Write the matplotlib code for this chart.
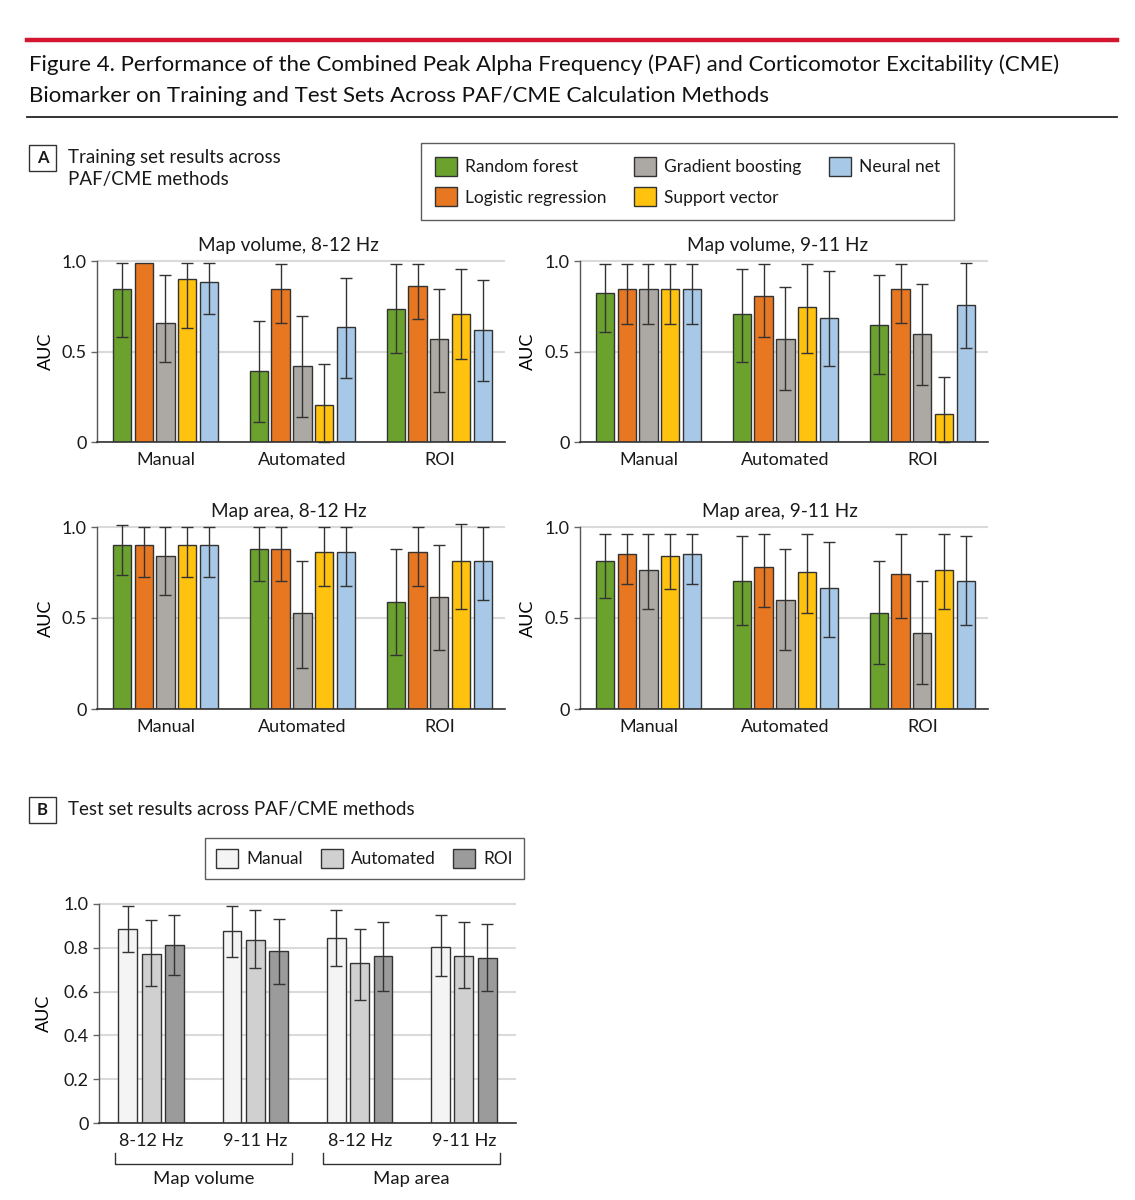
import numpy as np
import matplotlib
matplotlib.use('Agg')
import matplotlib.pyplot as plt
from matplotlib.patches import Patch, Rectangle
from matplotlib.lines import Line2D
import matplotlib.transforms as mtrans

plt.rcParams['font.family'] = ['Lato', 'DejaVu Sans']
plt.rcParams['text.color'] = '#1a1a1a'

nan = np.nan

# ---------------- data ----------------
methods = ['Manual', 'Automated', 'ROI']
models = ['Random forest', 'Logistic regression', 'Gradient boosting',
          'Support vector', 'Neural net']

# rows: Manual, Automated, ROI ; columns: models
vol812_auc = [[0.847, 0.987, 0.656, 0.899, 0.886],
              [0.392, 0.847, 0.418, 0.203, 0.634],
              [0.735, 0.860, 0.571, 0.709, 0.621]]
vol812_lo = [[0.580, nan, 0.444, 0.632, 0.705],
             [0.112, 0.659, 0.138, 0.000, 0.354],
             [0.492, 0.681, 0.276, 0.457, 0.339]]
vol812_hi = [[0.989, nan, 0.924, 0.989, 0.987],
             [0.670, 0.985, 0.694, 0.429, 0.908],
             [0.983, 0.985, 0.845, 0.958, 0.895]]

vol911_auc = [[0.821, 0.847, 0.847, 0.847, 0.847],
              [0.709, 0.808, 0.571, 0.748, 0.683],
              [0.645, 0.847, 0.595, 0.153, 0.759]]
vol911_lo = [[0.606, 0.654, 0.654, 0.654, 0.654],
             [0.442, 0.578, 0.289, 0.492, 0.418],
             [0.378, 0.656, 0.317, 0.000, 0.519]]
vol911_hi = [[0.985, 0.985, 0.985, 0.985, 0.985],
             [0.958, 0.983, 0.858, 0.985, 0.947],
             [0.923, 0.985, 0.871, 0.357, 0.987]]

area812_auc = [[0.903, 0.903, 0.839, 0.903, 0.903],
               [0.879, 0.879, 0.527, 0.864, 0.864],
               [0.588, 0.864, 0.614, 0.813, 0.813]]
area812_lo = [[0.738, 0.725, 0.626, 0.725, 0.725],
              [0.701, 0.701, 0.223, 0.678, 0.678],
              [0.297, 0.678, 0.324, 0.548, 0.599]]
area812_hi = [[1.011, 1.000, 1.000, 1.000, 1.000],
              [1.000, 1.000, 0.811, 0.998, 0.998],
              [0.877, 1.000, 0.901, 1.015, 1.000]]

area911_auc = [[0.813, 0.852, 0.764, 0.839, 0.852],
               [0.701, 0.778, 0.601, 0.753, 0.663],
               [0.526, 0.740, 0.415, 0.764, 0.701]]
area911_lo = [[0.612, 0.685, 0.549, 0.661, 0.685],
              [0.462, 0.560, 0.324, 0.526, 0.397],
              [0.247, 0.500, 0.136, 0.549, 0.462]]
area911_hi = [[0.962, 0.962, 0.962, 0.963, 0.962],
              [0.952, 0.963, 0.877, 0.963, 0.916],
              [0.813, 0.963, 0.701, 0.963, 0.952]]

panel_titles = ['Map volume, 8-12 Hz', 'Map volume, 9-11 Hz',
                'Map area, 8-12 Hz', 'Map area, 9-11 Hz']

# test set (panel B)
test_groups = ['8-12 Hz', '9-11 Hz', '8-12 Hz', '9-11 Hz']
test_super = ['Map volume', 'Map area']
test_methods = ['Manual', 'Automated', 'ROI']
# rows: groups ; columns: Manual, Automated, ROI
test_auc = [[0.887, 0.772, 0.814],
            [0.877, 0.834, 0.784],
            [0.846, 0.729, 0.761],
            [0.805, 0.761, 0.752]]
test_lo = [[0.781, 0.624, 0.677],
           [0.760, 0.709, 0.635],
           [0.718, 0.563, 0.604],
           [0.670, 0.616, 0.604]]
test_hi = [[0.991, 0.925, 0.950],
           [0.991, 0.971, 0.930],
           [0.971, 0.886, 0.919],
           [0.948, 0.919, 0.907]]

model_colors = ['#6aa22d', '#e87722', '#aca8a3', '#ffc20e', '#a8c8e8']
method_colors = ['#f4f4f4', '#d0d0d0', '#9b9b9b']

# ---------------- figure ----------------
W, H = 1135, 1200
fig = plt.figure(figsize=(W / 100, H / 100), dpi=100)
fig.patch.set_facecolor('white')

EDGE = '#333333'
GRID = '#dadada'
YMAX = 1.03
FS = 13


def add_ax(left, right, y0px, y1px, ymax=YMAX):
    per = y0px - y1px
    top = y0px - ymax * per
    return fig.add_axes([left / W, 1 - y0px / H, (right - left) / W, (y0px - top) / H])


def style_ax(ax, yticks, ylabels, labx):
    ax.set_ylim(0, YMAX)
    for s in ['top', 'right']:
        ax.spines[s].set_visible(False)
    ax.spines['left'].set_bounds(0, 1)
    ax.spines['left'].set_color('#555555')
    ax.spines['bottom'].set_color('#333333')
    ax.spines['left'].set_linewidth(1.0)
    ax.spines['bottom'].set_linewidth(1.2)
    ax.set_yticks(yticks)
    ax.set_yticklabels(ylabels)
    ax.tick_params(axis='y', length=4.5, width=1.0, color='#666666', pad=3,
                   labelsize=FS, labelcolor='#1a1a1a')
    ax.tick_params(axis='x', length=0, pad=7, labelsize=FS, labelcolor='#1a1a1a')
    ax.yaxis.grid(True, color=GRID, lw=1.5)
    ax.set_axisbelow(True)
    ax.set_ylabel('AUC', fontsize=FS)
    ax.yaxis.set_label_coords(labx, 0.5 / YMAX)


# ---- panel A ----
panelA = [
    (vol812_auc, vol812_lo, vol812_hi, (97, 505, 442, 261), 0.468, -0.105),
    (vol911_auc, vol911_lo, vol911_hi, (580, 988, 442, 261), 0.485, -0.108),
    (area812_auc, area812_lo, area812_hi, (97, 505, 709, 527), 0.470, -0.105),
    (area911_auc, area911_lo, area911_hi, (580, 988, 709, 527), 0.490, -0.108),
]
bw = 0.134
step = 0.159
xg = np.arange(len(methods))
for pi, (auc, lo, hi, box, tx, lx) in enumerate(panelA):
    ax = add_ax(*box)
    auc = np.array(auc)
    lo = np.array(lo)
    hi = np.array(hi)
    for mi in range(len(models)):
        xs = xg + (mi - 2) * step
        ax.bar(xs, auc[:, mi], width=bw, color=model_colors[mi], edgecolor=EDGE,
               linewidth=1.0, zorder=2)
        for gi in range(len(methods)):
            if np.isnan(lo[gi, mi]):
                continue
            ax.errorbar(xs[gi], auc[gi, mi],
                        yerr=[[auc[gi, mi] - lo[gi, mi]], [hi[gi, mi] - auc[gi, mi]]],
                        fmt='none', ecolor='#333333', elinewidth=1.0, capsize=4.5,
                        capthick=1.0, zorder=3, clip_on=False)
    ax.set_xlim(-0.5, 2.48)
    ax.set_xticks(xg)
    ax.set_xticklabels(methods)
    style_ax(ax, [0, 0.5, 1.0], ['0', '0.5', '1.0'], lx)
    ax.set_title(panel_titles[pi], fontsize=13.7, x=tx, pad=3)

# legend A
handles = [Patch(facecolor=c, edgecolor=EDGE, linewidth=1.0) for c in model_colors]
legA = fig.legend(handles, models, loc='upper left',
                  bbox_to_anchor=(421 / W, 1 - 143 / H), ncol=3, fontsize=12.5,
                  frameon=True, fancybox=False, edgecolor='#333333',
                  handlelength=1.28, handleheight=1.28, handletextpad=0.45,
                  columnspacing=1.6, labelspacing=0.68, borderpad=0.8,
                  borderaxespad=0)
legA.get_frame().set_linewidth(1.0)

# ---- panel B ----
axB = add_ax(99, 516, 1123, 904)
tauc = np.array(test_auc)
tlo = np.array(test_lo)
thi = np.array(test_hi)
xb = np.arange(len(test_groups))
bwB = 0.18
stepB = 0.224
for mi in range(len(test_methods)):
    xs = xb + (mi - 1) * stepB
    axB.bar(xs, tauc[:, mi], width=bwB, color=method_colors[mi], edgecolor=EDGE,
            linewidth=1.0, zorder=2)
    axB.errorbar(xs, tauc[:, mi], yerr=[tauc[:, mi] - tlo[:, mi], thi[:, mi] - tauc[:, mi]],
                 fmt='none', ecolor='#333333', elinewidth=1.0, capsize=4.5,
                 capthick=1.0, zorder=3)
axB.set_xlim(-0.5, 3.5)
axB.set_xticks(xb)
axB.set_xticklabels(test_groups)
style_ax(axB, [0, 0.2, 0.4, 0.6, 0.8, 1.0], ['0', '0.2', '0.4', '0.6', '0.8', '1.0'], -0.113)

# brackets under panel B
trB = mtrans.blended_transform_factory(axB.transData, axB.transAxes)
axes_h_px = 219 * YMAX
def ypx_to_axes(ypx):
    return (1123 - ypx) / axes_h_px
yb_line = ypx_to_axes(1164)
yb_tick = ypx_to_axes(1153)
yb_text = ypx_to_axes(1179)
for si, name in enumerate(test_super):
    g0 = xb[2 * si]
    g1 = xb[2 * si + 1]
    xa, xc = g0 - 0.35, g1 + 0.35
    axB.add_line(Line2D([xa, xa, xc, xc], [yb_tick, yb_line, yb_line, yb_tick],
                        transform=trB, color='#333333', lw=1.0, clip_on=False))
    axB.text((g0 + g1) / 2, yb_text, name, transform=trB, ha='center', va='center',
             fontsize=13.3)

# legend B
handlesB = [Patch(facecolor=c, edgecolor=EDGE, linewidth=1.0) for c in method_colors]
legB = fig.legend(handlesB, test_methods, loc='upper left',
                  bbox_to_anchor=(205 / W, 1 - 838 / H), ncol=3, fontsize=12.4,
                  frameon=True, fancybox=False, edgecolor='#333333',
                  handlelength=1.28, handleheight=1.28, handletextpad=0.45,
                  columnspacing=1.05, borderpad=0.65, borderaxespad=0)
legB.get_frame().set_linewidth(1.0)

# ---------------- header ----------------
fig.add_artist(Line2D([27 / W, 1117 / W], [1 - 40 / H, 1 - 40 / H], color='#d3152f', lw=3.2))
fig.add_artist(Line2D([27 / W, 1117 / W], [1 - 117 / H, 1 - 117 / H], color='#222222', lw=1.3))
fig.text(29 / W, 1 - 71 / H,
         'Figure 4. Performance of the Combined Peak Alpha Frequency (PAF) and Corticomotor Excitability (CME)',
         fontsize=16.0, va='baseline', ha='left', color='#111111')
fig.text(29 / W, 1 - 102 / H,
         'Biomarker on Training and Test Sets Across PAF/CME Calculation Methods',
         fontsize=16.0, va='baseline', ha='left', color='#111111')

# panel labels
for (lab, ybox, lines) in [('A', 145, ['Training set results across', 'PAF/CME methods']),
                           ('B', 797, ['Test set results across PAF/CME methods'])]:
    fig.add_artist(Rectangle((29 / W, 1 - (ybox + 26) / H), 27 / W, 26 / H,
                             transform=fig.transFigure, facecolor='white',
                             edgecolor='#333333', lw=1.0))
    fig.text(42.5 / W, 1 - (ybox + 13) / H, lab, fontsize=12, fontweight='bold',
             ha='center', va='center')
    for li, t in enumerate(lines):
        fig.text(68 / W, 1 - (ybox + 12 + 23 * li) / H, t, fontsize=13.5,
                 ha='left', va='center')

fig.savefig('out.png', dpi=100)
